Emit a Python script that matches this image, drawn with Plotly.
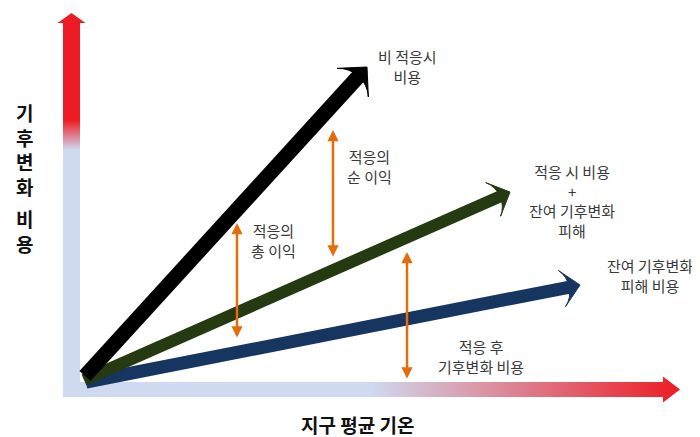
import math
import plotly.graph_objects as go

# ---------------- data (conceptual diagram, units = screen px from origin) ----
# Cost lines: start and tip of each arrow
line_names = ["비 적응시 비용", "적응 시 비용 + 잔여 기후변화 피해", "잔여 기후변화 피해 비용"]
line_x0 = [5, 4, 6]
line_y0 = [7, 3, 1]
line_x1 = [287, 430, 500]
line_y1 = [316, 191, 98]
line_colors = ["#000000", "#263a12", "#163560"]
line_widths = [15, 12, 13]
head_sizes = [30, 26, 26]

# Orange double arrows (benefit / cost spans)
span_x = [157, 253, 327]
span_top = [160, 253, 131]
span_bottom = [44, 125, 3]

# Labels
label_text = [
    "비 적응시<br>비용",
    "적응의<br>순 이익",
    "적응의<br>총 이익",
    "적응 시 비용<br>+<br>잔여 기후변화<br>피해",
    "잔여 기후변화<br>피해 비용",
    "적응 후<br>기후변화 비용",
]
label_x = [327, 289, 193, 492, 570, 401]
label_y = [317, 217, 143, 182, 108, 27]

# Axes (gradient arrows)
y_axis_x = -8.5
y_axis_from, y_axis_to = -14, 370
x_axis_y = -6.5
x_axis_from, x_axis_to = -17, 600

LIGHT_BLUE = "#cfdaf0"
RED = "#ed1c24"
FONT = "Noto Sans CJK KR"


def arrow_polygon(x0, y0, x1, y1, shaft_w, head_w, head_len):
    dx, dy = x1 - x0, y1 - y0
    L = math.hypot(dx, dy)
    ux, uy = dx / L, dy / L
    nx, ny = -uy, ux
    bx, by = x1 - ux * head_len, y1 - uy * head_len
    s, h = shaft_w / 2, head_w / 2
    pts = [
        (x0 + nx * s, y0 + ny * s),
        (bx + nx * s, by + ny * s),
        (bx + nx * h, by + ny * h),
        (x1, y1),
        (bx - nx * h, by - ny * h),
        (bx - nx * s, by - ny * s),
        (x0 - nx * s, y0 - ny * s),
        (x0 + nx * s, y0 + ny * s),
    ]
    return [p[0] for p in pts], [p[1] for p in pts]


fig = go.Figure()

# vertical axis arrow (light blue -> red upward)
vx, vy = arrow_polygon(y_axis_x, y_axis_from, y_axis_x, y_axis_to, 17, 28, 10)
span_v = y_axis_to - y_axis_from
fig.add_trace(go.Scatter(
    x=vx, y=vy, mode="lines", fill="toself", line=dict(width=0, color="rgba(0,0,0,0)"),
    fillgradient=dict(type="vertical", start=y_axis_from, stop=y_axis_to,
                      colorscale=[[0, LIGHT_BLUE], [(233 - y_axis_from) / span_v, LIGHT_BLUE],
                                  [(263 - y_axis_from) / span_v, RED], [1, RED]]),
    hoverinfo="skip", showlegend=False))

# horizontal axis arrow (light blue -> red rightward)
hx, hy = arrow_polygon(x_axis_from, x_axis_y, x_axis_to, x_axis_y, 15, 26, 17)
span_h = x_axis_to - x_axis_from
fig.add_trace(go.Scatter(
    x=hx, y=hy, mode="lines", fill="toself", line=dict(width=0, color="rgba(0,0,0,0)"),
    fillgradient=dict(type="horizontal", start=x_axis_from, stop=x_axis_to,
                      colorscale=[[0, LIGHT_BLUE], [(290 - x_axis_from) / span_h, LIGHT_BLUE],
                                  [1, RED]]),
    hoverinfo="skip", showlegend=False))

# cost lines with arrowheads (draw navy first, black last)
for i in [2, 1, 0]:
    fig.add_trace(go.Scatter(
        x=[line_x0[i], line_x1[i]], y=[line_y0[i], line_y1[i]],
        mode="lines+markers", name=line_names[i],
        line=dict(color=line_colors[i], width=line_widths[i]),
        marker=dict(symbol=["circle", "arrow-wide"], size=[0, head_sizes[i]],
                    angleref="previous", color=line_colors[i], opacity=1,
                    line=dict(width=1, color=line_colors[i])),
        hoverinfo="skip", showlegend=False))

# orange double-headed arrows
for xs, yt, yb in zip(span_x, span_top, span_bottom):
    fig.add_annotation(x=xs, y=yt, ax=xs, ay=yb, xref="x", yref="y", axref="x", ayref="y",
                       text="", showarrow=True, arrowside="end+start",
                       arrowhead=2, startarrowhead=2, arrowsize=0.9, startarrowsize=0.9,
                       arrowwidth=2.5, arrowcolor="#e46c0a")

# text labels
for t, lx, ly in zip(label_text, label_x, label_y):
    fig.add_annotation(x=lx, y=ly, xref="x", yref="y", text=t, showarrow=False,
                       font=dict(family=FONT, size=15, color="#3a3a3a"),
                       align="center", xanchor="center", yanchor="middle")

# axis titles
fig.add_annotation(x=-56, y=234, xref="x", yref="y", text="<b>기<br>후<br>변<br>화</b>",
                   showarrow=False, font=dict(family=FONT, size=19, color="#111"),
                   xanchor="center", yanchor="middle")
fig.add_annotation(x=-56, y=152, xref="x", yref="y", text="<b>비<br>용</b>",
                   showarrow=False, font=dict(family=FONT, size=19, color="#111"),
                   xanchor="center", yanchor="middle")
fig.add_annotation(x=278, y=-41, xref="x", yref="y", text="<b>지구 평균 기온</b>",
                   showarrow=False, font=dict(family=FONT, size=19, color="#111"),
                   xanchor="center", yanchor="middle")

# the page body adds an 8px offset, so the view window is shifted by 8 units
fig.update_layout(
    width=700, height=437, margin=dict(l=0, r=0, t=0, b=0),
    paper_bgcolor="white", plot_bgcolor="white",
    xaxis=dict(range=[-72, 628], visible=False, fixedrange=True),
    yaxis=dict(range=[-62, 375], visible=False, fixedrange=True),
    showlegend=False,
)

fig.write_html("out.html")
